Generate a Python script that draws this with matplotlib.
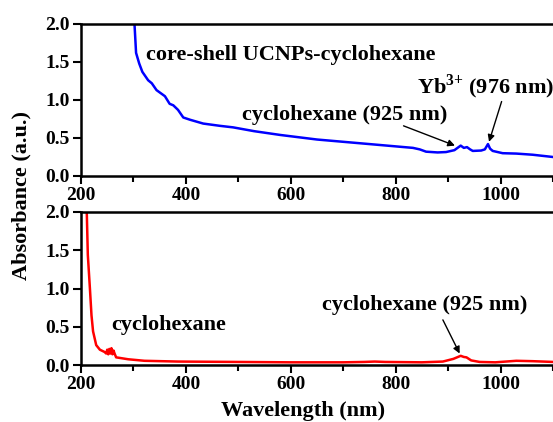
import numpy as np
import matplotlib
matplotlib.use('Agg')
import matplotlib.pyplot as plt

plt.rcParams['font.family'] = ['Liberation Serif', 'DejaVu Serif']
plt.rcParams['font.weight'] = 'bold'
plt.rcParams['mathtext.fontset'] = 'custom'
plt.rcParams['mathtext.rm'] = 'Liberation Serif:bold'
plt.rcParams['mathtext.bf'] = 'Liberation Serif:bold'

# core-shell UCNPs in cyclohexane (blue, top panel)
wl_ucnp = [299, 302, 305, 311, 317, 328, 335, 344, 354, 360, 369, 376, 385, 395, 408,
           433, 465, 490, 530, 580, 650, 700, 750, 808, 833, 846, 858, 880, 896, 912,
           918, 924, 930, 936, 942, 947, 963, 970, 976, 980, 985, 1004, 1030, 1061, 1100]
abs_ucnp = [2.2, 2.0, 1.62, 1.48, 1.37, 1.26, 1.22, 1.13, 1.08, 1.05, 0.95, 0.93, 0.87, 0.77, 0.74,
            0.69, 0.66, 0.64, 0.59, 0.54, 0.48, 0.45, 0.42, 0.385, 0.37, 0.35, 0.32, 0.31, 0.315, 0.34,
            0.37, 0.40, 0.37, 0.38, 0.35, 0.33, 0.335, 0.35, 0.42, 0.36, 0.33, 0.30, 0.295, 0.28, 0.25]

# pure cyclohexane (red, bottom panel)
wl_cyc = [209, 211, 213, 217, 220, 223, 229, 236, 245, 248, 250, 252, 254, 256, 258, 260, 262,
          264, 267, 290, 321, 385, 500, 600, 700, 740, 760, 780, 850, 890, 910, 924, 930, 935,
          944, 960, 990, 1030, 1061, 1100]
abs_cyc = [2.2, 2.0, 1.44, 1.0, 0.65, 0.44, 0.26, 0.20, 0.17, 0.15, 0.20, 0.14, 0.21, 0.15, 0.22, 0.14, 0.19,
           0.15, 0.10, 0.075, 0.055, 0.045, 0.04, 0.035, 0.035, 0.04, 0.045, 0.04, 0.035, 0.045, 0.08, 0.12, 0.105, 0.10,
           0.06, 0.04, 0.035, 0.055, 0.05, 0.04]

xticks = [200, 400, 600, 800, 1000]
yticks = [0.0, 0.5, 1.0, 1.5, 2.0]

fig = plt.figure(figsize=(5.53, 4.22), dpi=100)
left = 81 / 553
width = 1 - left
ax1 = fig.add_axes([left, 1 - 176 / 422, width, 152 / 422])
ax2 = fig.add_axes([left, 1 - 365 / 422, width, 153 / 422])

ax1.plot(wl_ucnp, abs_ucnp, color='#0000ff', linewidth=1.8)
ax2.plot(wl_cyc, abs_cyc, color='#ff0000', linewidth=1.8)

for ax in [ax1, ax2]:
    ax.set_xlim(200, 1100)
    ax.set_ylim(0, 2.0)
    ax.set_xticks(xticks)
    ax.set_xticks([300, 500, 700, 900, 1100], minor=True)
    ax.set_yticks(yticks)
    ax.set_yticklabels([f'{v:.1f}' for v in yticks])
    ax.tick_params(which='major', direction='out', length=6, width=1.5, labelsize=14, pad=2)
    ax.tick_params(which='minor', direction='out', length=4, width=1.5)
    ax.spines['right'].set_visible(False)
    for s in ['left', 'bottom', 'top']:
        ax.spines[s].set_linewidth(1.8)
    for lab in ax.get_xticklabels() + ax.get_yticklabels():
        lab.set_fontweight('bold')

arrow = dict(arrowstyle='-|>', color='black', lw=1, mutation_scale=10, shrinkA=0, shrinkB=0)
fs = 16

# top panel labels
ax1.text(324, 1.59, 'core-shell UCNPs-cyclohexane', fontsize=fs, fontweight='bold', ha='left', va='center')
ax1.text(507, 0.80, 'cyclohexane (925 nm)', fontsize=fs, fontweight='bold', ha='left', va='center')
ax1.annotate('', xy=(913, 0.40), xytext=(815, 0.66), arrowprops=arrow)
ax1.annotate('', xy=(978, 0.45), xytext=(1002, 0.98), arrowprops=arrow)
ax1.text(841, 1.17, r'Yb$^{3{+}}$ (976 nm)', fontsize=fs, fontweight='bold', ha='left', va='center')

# bottom panel labels
ax2.text(257, 0.52, 'cyclohexane', fontsize=fs, fontweight='bold', ha='left', va='center')
ax2.text(660, 0.78, 'cyclohexane (925 nm)', fontsize=fs, fontweight='bold', ha='left', va='center')
ax2.annotate('', xy=(922, 0.15), xytext=(890, 0.59), arrowprops=arrow)

fig.text(303 / 553, 1 - 411 / 422, 'Wavelength (nm)', fontsize=fs, fontweight='bold', ha='center', va='center')
fig.text(21 / 553, 1 - 196 / 422, 'Absorbance (a.u.)', fontsize=fs, fontweight='bold',
         rotation=90, ha='center', va='center')

fig.savefig('out.png', dpi=100)
